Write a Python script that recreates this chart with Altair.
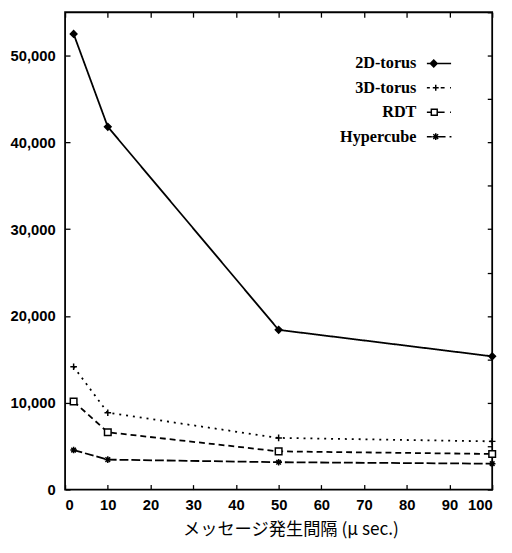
import altair as alt
import pandas as pd

series = ["2D-torus", "3D-torus", "RDT", "Hypercube"]
x_vals = [2, 10, 50, 100]
torus2d = [52500, 41800, 18400, 15350]
torus3d = [14150, 8850, 5950, 5550]
rdt = [10150, 6600, 4400, 4100]
hypercube = [4550, 3450, 3150, 2980]

x_ticks = list(range(0, 101, 10))
y_ticks_left = list(range(0, 55001, 10000))
y_ticks_right = list(range(0, 55001, 5000))

rows = []
for name, vals in zip(series, [torus2d, torus3d, rdt, hypercube]):
    for xv, yv in zip(x_vals, vals):
        rows.append({"series": name, "x": xv, "y": yv})
df = pd.DataFrame(rows)

xs = alt.Scale(domain=[0, 100], nice=False, zero=False)
ys = alt.Scale(domain=[0, 55000], nice=False)

dash_range = [[1, 0], [2, 5], [6, 4], [9, 3]]

plus_path = "M-1,0H1M0,-1V1"
star_path = "M-1,0H1M0,-1V1M-0.7,-0.7L0.7,0.7M-0.7,0.7L0.7,-0.7"
marker_shapes = ["diamond", plus_path, "square", star_path]
marker_fills = ["black", "black", "white", "black"]

# legend symbol glyphs (line sample + marker), shifted right so they sit after the label
S = 2.97


def f(v):
    return f"{v + S:.3f}"


def hl(a, b):
    return f"M{f(a)},0H{f(b)}"


def diamond(c, r):
    return f"M{f(c)},{-r}L{f(c + r)},0L{f(c)},{r}L{f(c - r)},0Z"


def plus(c, r):
    return f"M{f(c - r)},0H{f(c + r)}M{f(c)},{-r}V{r}"


def box(c, r):
    return f"M{f(c - r)},{-r}H{f(c + r)}V{r}H{f(c - r)}Z"


def star(c, r):
    d = r * 0.7
    return plus(c, r) + f"M{f(c - d)},{-d}L{f(c + d)},{d}M{f(c - d)},{d}L{f(c + d)},{-d}"


legend_paths = [
    hl(-1, 1.05) + diamond(-0.42, 0.29) + diamond(-0.42, 0.17) + diamond(-0.42, 0.06),
    hl(-1, -0.75) + hl(-0.5, 0) + plus(-0.25, 0.25) + hl(0.17, 0.5) + hl(0.96, 1.04),
    hl(-1, -0.63) + hl(-0.125, 0.5) + hl(0.96, 1.04) + box(-0.375, 0.25),
    hl(-1, -0.58) + hl(0.0, 0.58) + hl(0.92, 1.08) + star(-0.25, 0.29),
]

lines = alt.Chart(df).mark_line(color="black", strokeWidth=1.8).encode(
    x=alt.X("x:Q", scale=xs, axis=alt.Axis(
        orient="bottom", values=x_ticks, title="メッセージ発生間隔 (μ sec.)",
        tickSize=5, offset=-5, labelPadding=8, titlePadding=9,
        titleX=229, titleAlign="center")),
    y=alt.Y("y:Q", scale=ys, axis=alt.Axis(
        orient="left", values=y_ticks_left, format=",.0f", title=None,
        tickSize=5, offset=-5, labelPadding=10)),
    strokeDash=alt.StrokeDash("series:N", scale=alt.Scale(domain=series, range=dash_range), legend=None),
    detail="series:N",
)

points = alt.Chart(df).mark_point(filled=True, stroke="black", strokeWidth=1.5, opacity=1, size=45).encode(
    x=alt.X("x:Q", scale=xs, axis=None),
    y=alt.Y("y:Q", scale=ys, axis=None),
    shape=alt.Shape("series:N", scale=alt.Scale(domain=series, range=marker_shapes), legend=None),
    fill=alt.Fill("series:N", scale=alt.Scale(domain=series, range=marker_fills), legend=None),
)

frame = alt.Chart(df).mark_point(opacity=0).encode(
    x=alt.X("x:Q", scale=xs, axis=alt.Axis(
        orient="top", values=x_ticks, labels=False, title=None, tickSize=5, offset=-5)),
    y=alt.Y("y:Q", scale=ys, axis=alt.Axis(
        orient="right", values=y_ticks_right, labels=False, title=None, tickSize=5, offset=-5)),
)

legend_layer = alt.Chart(df).transform_filter("false").mark_point(
    filled=False, color="black", strokeWidth=1.5, opacity=1, size=576
).encode(
    shape=alt.Shape("series:N", scale=alt.Scale(domain=series, range=legend_paths), legend=alt.Legend(
        orient="none", legendX=331, legendY=39, title=None, symbolSize=576,
        symbolStrokeWidth=1.5, symbolStrokeColor="black", symbolFillColor="transparent",
        labelAlign="right", labelOffset=0, labelFont="Liberation Serif",
        labelFontWeight="bold", labelFontSize=16.5, labelColor="black",
        rowPadding=2.8, padding=0, labelLimit=300)),
)

chart = alt.layer(lines, points, frame, legend_layer).resolve_scale(
    shape="independent"
).resolve_axis(x="independent", y="independent").properties(
    width=434, height=485,
    padding={"left": 58, "top": 0, "right": 12, "bottom": 50},
    autosize=alt.AutoSizeParams(type="none"),
).configure_view(stroke="black", strokeWidth=1.8).configure_axis(
    grid=False, domain=False, tickColor="black", tickWidth=1.3,
    labelFont="Liberation Sans", labelFontWeight="bold", labelFontSize=15, labelColor="black",
    titleFont="Noto Sans CJK JP", titleFontSize=17.5, titleFontWeight="normal", titleColor="black",
)

chart.save("out.html", embed_options={"renderer": "svg", "actions": False})
